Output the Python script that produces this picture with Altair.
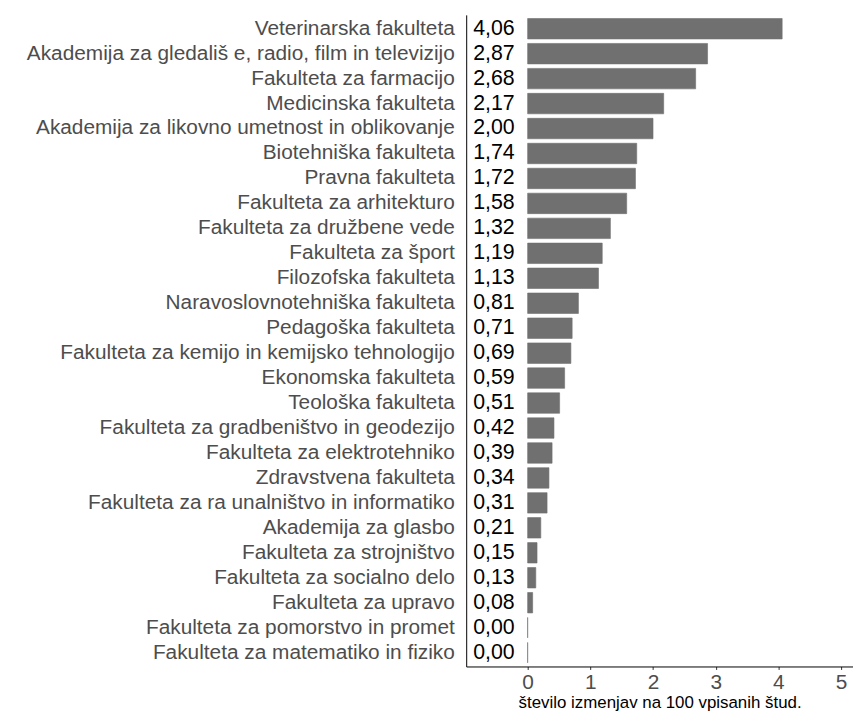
import altair as alt
import pandas as pd

faculties = [
    "Veterinarska fakulteta",
    "Akademija za gledališ e, radio, film in televizijo\u00a0",
    "Fakulteta za farmacijo",
    "Medicinska fakulteta",
    "Akademija za likovno umetnost in oblikovanje",
    "Biotehniška fakulteta",
    "Pravna fakulteta",
    "Fakulteta za arhitekturo",
    "Fakulteta za družbene vede",
    "Fakulteta za šport",
    "Filozofska fakulteta",
    "Naravoslovnotehniška fakulteta",
    "Pedagoška fakulteta",
    "Fakulteta za kemijo in kemijsko tehnologijo",
    "Ekonomska fakulteta",
    "Teološka fakulteta",
    "Fakulteta za gradbeništvo in geodezijo",
    "Fakulteta za elektrotehniko",
    "Zdravstvena fakulteta",
    "Fakulteta za ra unalništvo in informatiko\u00a0",
    "Akademija za glasbo",
    "Fakulteta za strojništvo",
    "Fakulteta za socialno delo",
    "Fakulteta za upravo",
    "Fakulteta za pomorstvo in promet",
    "Fakulteta za matematiko in fiziko",
]
values = [4.06, 2.87, 2.68, 2.17, 2.00, 1.74, 1.72, 1.58, 1.32, 1.19, 1.13,
          0.81, 0.71, 0.69, 0.59, 0.51, 0.42, 0.39, 0.34, 0.31, 0.21, 0.15,
          0.13, 0.08, 0.00, 0.00]
x_ticks = [0, 1, 2, 3, 4, 5]

df = pd.DataFrame({
    "fak": faculties,
    "val": values,
    "lab": [f"{v:.2f}".replace(".", ",") for v in values],
})

FONT = "Liberation Sans"

y_enc = alt.Y(
    "fak:N",
    sort=faculties,
    scale=alt.Scale(paddingInner=0.18, paddingOuter=0.145),
    axis=alt.Axis(
        title=None, ticks=False, labelPadding=12, labelFontSize=21,
        labelColor="#4d4d4d", labelFont=FONT, domainColor="#000000",
        domainWidth=1, labelLimit=700, grid=False,
    ),
)

bars = alt.Chart(df).mark_bar(color="#707070", stroke="#707070", strokeWidth=0.6).encode(
    x=alt.X(
        "val:Q",
        scale=alt.Scale(domain=[-0.98, 5.19], nice=False, zero=False),
        axis=alt.Axis(
            values=x_ticks, title="število izmenjav na 100 vpisanih štud.",
            titleFontSize=17, titleFont=FONT, titleFontWeight="normal",
            titleColor="#000000", titlePadding=2,
            labelFontSize=21, labelFont=FONT, labelColor="#4d4d4d",
            tickSize=3, tickColor="#333333", labelPadding=2,
            domainColor="#000000", domainWidth=1, grid=False,
        ),
    ),
    x2=alt.datum(0),
    y=y_enc,
)

texts = alt.Chart(df).mark_text(
    align="left", baseline="middle", fontSize=21.5, font=FONT, color="#000000"
).encode(
    x=alt.value(7),
    y=alt.Y("fak:N", sort=faculties),
    text="lab:N",
)

chart = (bars + texts).properties(
    width=390, height=657, background="white",
    padding={"left": 18, "top": 4, "right": 0, "bottom": 2},
).configure_view(stroke=None)

chart.save("out.html", embed_options={"renderer": "svg", "actions": False})
